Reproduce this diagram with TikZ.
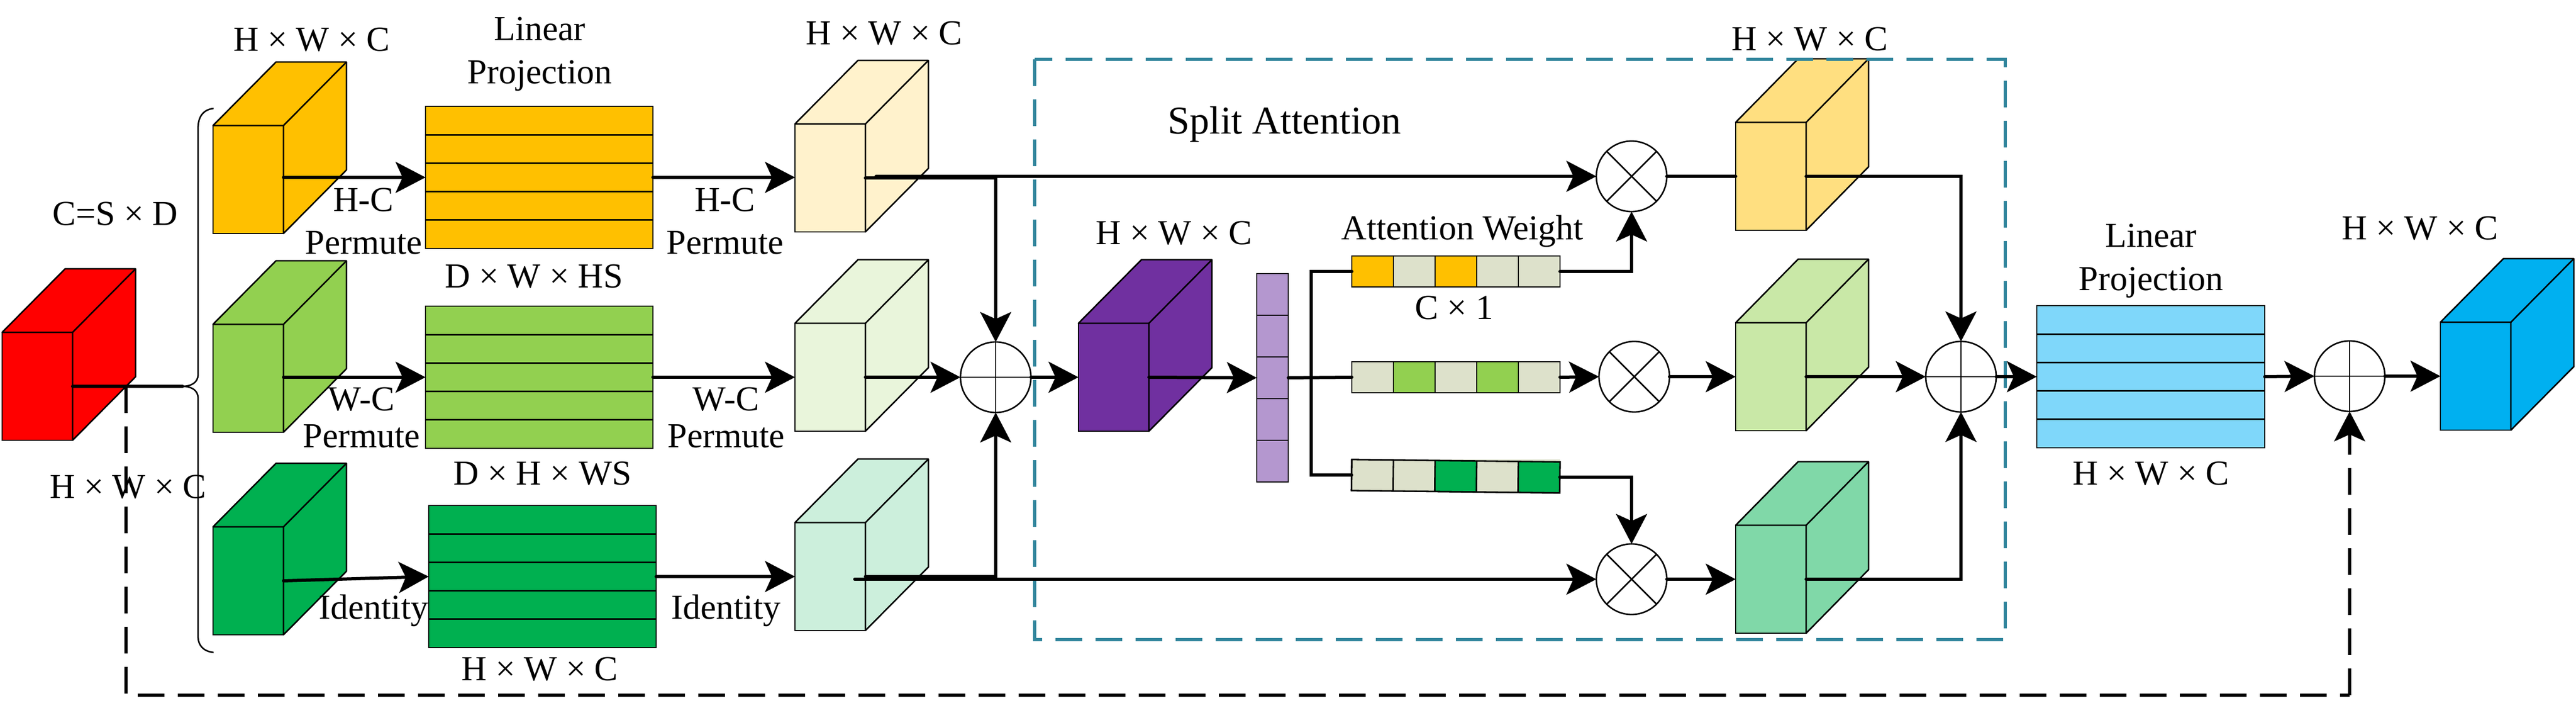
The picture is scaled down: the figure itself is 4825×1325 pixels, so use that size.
\documentclass[tikz,border=0pt]{standalone}
\usepackage{fontspec}
\setmainfont{Liberation Serif}
\usetikzlibrary{arrows.meta,calc}
\definecolor{cyellow}{HTML}{FFC000}
\definecolor{clime}{HTML}{92D050}
\definecolor{cdark}{HTML}{00B050}
\definecolor{cpurple}{HTML}{7030A0}
\definecolor{cblue}{HTML}{00B0F0}
\definecolor{cpaleY}{HTML}{FFF2CC}
\definecolor{cpaleG}{HTML}{E9F5DB}
\definecolor{cpaleT}{HTML}{CCEFDC}
\definecolor{cmidY}{HTML}{FFDF80}
\definecolor{cmidG}{HTML}{C9E8A7}
\definecolor{cmidT}{HTML}{80D8A8}
\definecolor{cbarB}{HTML}{7FD7FA}
\definecolor{cstack}{HTML}{B497CF}
\definecolor{cgrey}{HTML}{DDE1CB}
\definecolor{cteal}{HTML}{31859C}
\tikzset{
  thin line/.style={draw=black,line width=.28mm},
  face/.style={thin line,inner sep=0pt,outer sep=0pt,rectangle,anchor=north west,minimum width=13.2mm,minimum height=20.2mm},
  barbox/.style={thin line,inner sep=0pt,outer sep=0pt,rectangle,anchor=north west,minimum width=42.6mm,minimum height=26.6mm},
  stackbox/.style={thin line,inner sep=0pt,outer sep=0pt,rectangle,anchor=north west,minimum width=5.9mm,minimum height=39mm},
  wbar/.style={thin line,inner sep=0pt,outer sep=0pt,rectangle,anchor=north west,minimum width=39mm,minimum height=5.8mm},
  opcircle/.style={thin line,circle,fill=white,inner sep=0pt,outer sep=0pt,minimum size=13.2mm},
  conn/.style={line width=.6mm,draw=black,line join=miter,line cap=round},
  arr/.style={conn,-{Stealth[length=5.6mm,width=5.8mm,inset=1.3mm]}},
  dashline/.style={line width=.55mm,draw=black,dash pattern=on 5mm off 2.5mm},
  lab/.style={font=\fontsize{18.7}{23}\selectfont,inner sep=0pt,align=center,text height=12.3pt,text depth=0pt},
  mlab/.style={font=\fontsize{18.7}{23}\selectfont,inner sep=0pt,align=center}
}
% name, x, y(top of front), colour, side dx
\newcommand{\mycube}[5]{%
  \node[face,fill=#4] (#1) at (#2,#3) {};
  \draw[thin line,fill=#4,line join=round] (#1.north west) -- ++(#5,-119) -- ++(132,0) -- ++(0,202) -- (#1.south east) -- (#1.north east) -- cycle;
  \draw[thin line,line join=round] (#1.north east) -- ++(#5,-119);
}
\newcommand{\myrows}[2]{%
  \fill[#2] (#1.north west) rectangle (#1.south east);
  \foreach \k in {0.2,0.4,0.6,0.8}
    \draw[thin line] ($(#1.north west)!\k!(#1.south west)$) -- ($(#1.north east)!\k!(#1.south east)$);
  \draw[thin line] (#1.north west) rectangle (#1.south east);
}
\newcommand{\mycells}[6]{%
  \fill[#2] (#1.north west) -- (#1.north west -| #1.north east) -- (#1.south east) -- (#1.south west) -- cycle;
  \foreach \j/\c in {0/#2,1/#3,2/#4,3/#5,4/#6}{
    \pgfmathsetmacro{\ja}{\j/5}\pgfmathsetmacro{\jb}{(\j+1)/5}
    \fill[\c] ($(#1.north west)!\ja!(#1.north east)$) -- ($(#1.north west)!\jb!(#1.north east)$) -- ($(#1.south west)!\jb!(#1.south east)$) -- ($(#1.south west)!\ja!(#1.south east)$) -- cycle;
    \draw[thin line] ($(#1.north west)!\ja!(#1.north east)$) -- ($(#1.south west)!\ja!(#1.south east)$);
  }
  \draw[thin line] (#1.north west) -- (#1.north east) -- (#1.south east) -- (#1.south west) -- cycle;
}
\newcommand{\myplus}[1]{\draw[thin line] (#1.north) -- (#1.south) (#1.west) -- (#1.east);}
\newcommand{\mytimes}[1]{\draw[thin line] (#1.north west) -- (#1.south east) (#1.north east) -- (#1.south west);}
\begin{document}
\begin{tikzpicture}[x=.1mm,y=-.1mm]
\useasboundingbox (0,0) rectangle (4825,1325);
\fill[white] (0,0) rectangle (4825,1325);

% cubes
\mycube{c0}{4}{622}{red}{118}
\mycube{c1}{399}{235}{cyellow}{118}
\mycube{c2}{399}{607}{clime}{118}
\mycube{c3}{399}{986}{cdark}{118}
\mycube{c4}{1489}{232}{cpaleY}{118}
\mycube{c5}{1489}{605}{cpaleG}{118}
\mycube{c6}{1489}{978}{cpaleT}{118}
\mycube{p}{2020}{605}{cpurple}{118}
\mycube{c7}{3251}{229}{cmidY}{117}
\mycube{c8}{3251}{604}{cmidG}{117}
\mycube{c9}{3251}{983}{cmidT}{117}
\mycube{c10}{4571}{603}{cblue}{118}

% row bars
\node[barbox] (b1) at (797,199) {}; \myrows{b1}{cyellow}
\node[barbox] (b2) at (797,573) {}; \myrows{b2}{clime}
\node[barbox] (b3) at (803,946) {}; \myrows{b3}{cdark}
\node[barbox,minimum width=42.7mm] (b4) at (3815,572) {}; \myrows{b4}{cbarB}

% channel stack
\node[stackbox,fill=cstack] (st) at (2354,512) {};
\foreach \k in {0.2,0.4,0.6,0.8}
  \draw[thin line] ($(st.north west)!\k!(st.south west)$) -- ($(st.north east)!\k!(st.south east)$);

% attention bars
\node[wbar] (a1) at (2532,479) {}; \mycells{a1}{cyellow}{cgrey}{cyellow}{cgrey}{cgrey}
\node[wbar] (a2) at (2532,677) {}; \mycells{a2}{cgrey}{clime}{cgrey}{clime}{cgrey}
\node[wbar,rotate=-0.66] (a3) at (2532,860) {}; \mycells{a3}{cgrey}{cgrey}{cdark}{cgrey}{cdark}

% operators
\node[opcircle] (s1) at (1865,706) {}; \myplus{s1}
\node[opcircle] (s2) at (3673,705) {}; \myplus{s2}
\node[opcircle] (s3) at (4401,704) {}; \myplus{s3}
\node[opcircle] (o1) at (3056,330) {}; \mytimes{o1}
\node[opcircle] (o2) at (3061,705) {}; \mytimes{o2}
\node[opcircle] (o3) at (3056,1084) {}; \mytimes{o3}

% split attention frame
\draw[cteal,line width=.6mm,dash pattern=on 5mm off 2.5mm] (1938,111) rectangle (3756,1197);

% brace
\draw[thin line] (400,203) .. controls (381,205) and (371,218) .. (371,240) -- (371,701)
  .. controls (371,716) and (358,723) .. (342,723)
  .. controls (358,723) and (371,730) .. (371,745) -- (371,1191)
  .. controls (371,1208) and (381,1219) .. (400,1221);

% free-end points
\coordinate (tip) at (342,723);
\coordinate (d0) at (236,723);
\coordinate (d1) at (4401,1301);
\coordinate (t1) at (1641,330);
\coordinate (t2) at (1601,1084);
\coordinate (j) at (2456,706);

% connectors
\draw[conn] (c0.east) -- (tip);
\draw[dashline] (d0) |- (d1);
\draw[dashline,-{Stealth[length=5.6mm,width=5.8mm,inset=1.3mm]}] (d1) -- (s3.south);

\draw[arr] (c1.east |- b1.west) -- (b1.west);
\draw[arr] (c2.east |- b2.west) -- (b2.west);
\draw[arr] (c3.east) -- (b3.west);
\draw[arr] (b1.east) -- (c4.west |- b1.east);
\draw[arr] (b2.east) -- (c5.west |- b2.east);
\draw[arr] (b3.east) -- (c6.west);

\draw[arr] (c4.east) -| (s1.north);
\draw[arr] (c5.east) -- (s1.west);
\draw[arr] (c6.east) -| (s1.south);
\draw[arr] (t1) -- (o1.west);
\draw[arr] (t2) -- (o3.west);

\draw[arr] (s1.east) -- (p.west);
\draw[arr] (p.east) -- (st.west);
\draw[conn] (st.east) -- (a2.west);
\draw[conn] (a1.west) -- (a1.west -| j) -- (a3.west -| j) -- (a3.west);

\draw[arr] (a1.east) -| (o1.south);
\draw[arr] (a2.east) -- (o2.west);
\draw[arr] (a3.east) -| (o3.north);

\draw[conn] (o1.east) -- (c7.west);
\draw[arr] (o2.east) -- (c8.west);
\draw[arr] (o3.east) -- (c9.west);
\draw[arr] (c7.east) -| (s2.north);
\draw[arr] (c8.east) -- (s2.west);
\draw[arr] (c9.east) -| (s2.south);
\draw[arr] (s2.east) -- (b4.west);
\draw[arr] (b4.east) -- (s3.west);
\draw[arr] (s3.east) -- (c10.west);

% labels
\node[lab] (l1) at (584,74) {H × W × C};
\node[mlab] (l2) at (1011,101) {Linear\\Projection};
\node[lab] (l3) at (216,400) {C=S × D};
\node[lab] (l4) at (240,911) {H × W × C};
\node[mlab] (l5) at (681,414) {H-C\\Permute};
\node[mlab] (l6) at (677,782) {W-C\\[-3.4pt]Permute};
\node[lab] (l7) at (700,1137) {Identity};
\node[lab] (l8) at (1000,517) {D × W × HS};
\node[lab] (l9) at (1016,886) {D × H × WS};
\node[lab] (l10) at (1011,1252) {H × W × C};
\node[lab] (l11) at (1656,62) {H × W × C};
\node[mlab] (l12) at (1358,414) {H-C\\Permute};
\node[mlab] (l13) at (1360,782) {W-C\\[-3.4pt]Permute};
\node[lab] (l14) at (1360,1137) {Identity};
\node[lab] (l15) at (2199,436) {H × W × C};
\node[lab,font=\fontsize{21}{25}\selectfont,text height=13.9pt] (l16) at (2406,226) {Split Attention};
\node[lab] (l17) at (2739,427) {Attention Weight};
\node[lab] (l18) at (2724,576) {C × 1};
\node[lab] (l19) at (3390,73) {H × W × C};
\node[mlab] (l20) at (4029,488) {Linear\\Projection};
\node[lab] (l21) at (4029,886) {H × W × C};
\node[lab] (l22) at (4533,427) {H × W × C};
\end{tikzpicture}
\end{document}
